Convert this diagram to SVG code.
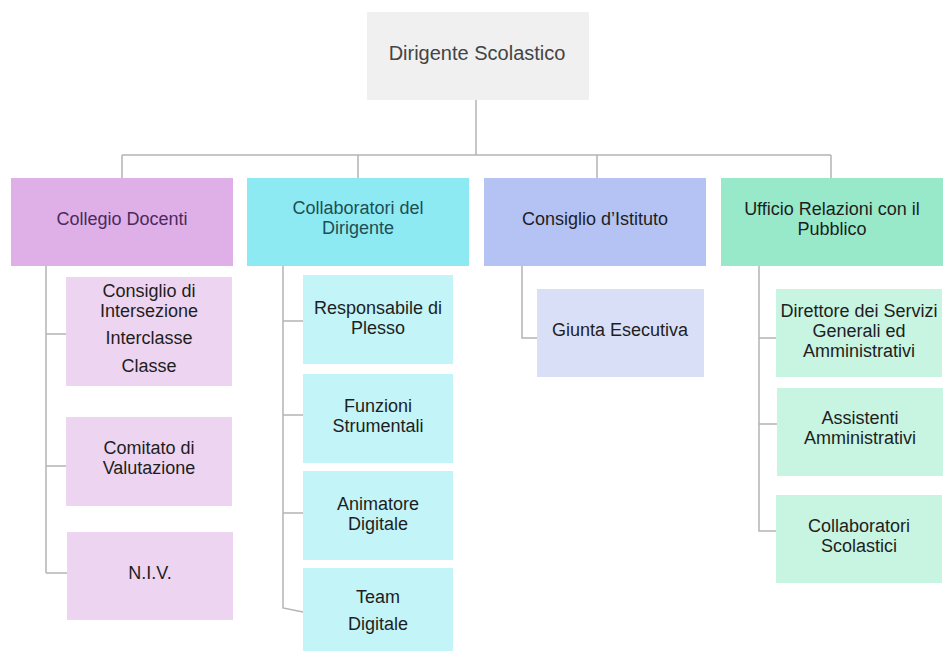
<svg xmlns="http://www.w3.org/2000/svg" width="943" height="651" viewBox="0 0 943 651">
<style>
text{font-family:"Liberation Sans",Arial,sans-serif;text-anchor:middle;font-size:18px;fill:#1e1e1e}
.c{fill:none;stroke:#b4b4b4;stroke-width:1.5}
.top{fill:#f0f0f0}
.p1{fill:#dfb0e8}.p2{fill:#edd5f1}
.t1{fill:#8eeaf2}.t2{fill:#c3f4f8}
.b1{fill:#b4c3f3}.b2{fill:#dadff8}
.g1{fill:#97e9c9}.g2{fill:#c8f4e2}
</style>
<g id="connectors">
<path class="c" d="M476 100V155M122 155H831M122 155V178M358 155V178M597 155V178M831 155V178"/>
<path class="c" d="M46 266V573M46 334H66M46 466H66M46 573H67"/>
<path class="c" d="M283 266V608L303 612M283 321H303M283 415H303M283 513H303"/>
<path class="c" d="M522 266V338H537"/>
<path class="c" d="M759 266V531H776M759 338H776M759 424H777"/>
</g>
<g id="dirigente"><rect class="top" x="367" y="12" width="222" height="88"/><text x="477" y="60" style="font-size:20px;fill:#444">Dirigente Scolastico</text></g>
<g id="collegio"><rect class="p1" x="11" y="178" width="222" height="88"/><text x="122" y="225" style="fill:#4b2a5c">Collegio Docenti</text></g>
<g id="collaboratori"><rect class="t1" x="247" y="178" width="222" height="88"/><text x="358" y="214" style="fill:#1d4f55">Collaboratori del</text><text x="358" y="234" style="fill:#1d4f55">Dirigente</text></g>
<g id="consiglio"><rect class="b1" x="484" y="178" width="222" height="88"/><text x="595" y="225">Consiglio d’Istituto</text></g>
<g id="ufficio"><rect class="g1" x="721" y="178" width="222" height="88"/><text x="832" y="215">Ufficio Relazioni con il</text><text x="832" y="235">Pubblico</text></g>
<g id="consiglio-intersezione"><rect class="p2" x="66" y="277" width="166" height="109"/><text x="149" y="297">Consiglio di</text><text x="149" y="317">Intersezione</text><text x="149" y="344">Interclasse</text><text x="149" y="372">Classe</text></g>
<g id="comitato"><rect class="p2" x="66" y="417" width="166" height="89"/><text x="149" y="454">Comitato di</text><text x="149" y="474">Valutazione</text></g>
<g id="niv"><rect class="p2" x="67" y="532" width="166" height="88"/><text x="150" y="579">N.I.V.</text></g>
<g id="responsabile"><rect class="t2" x="303" y="275" width="150" height="89"/><text x="378" y="314">Responsabile di</text><text x="378" y="334">Plesso</text></g>
<g id="funzioni"><rect class="t2" x="303" y="374" width="150" height="89"/><text x="378" y="412">Funzioni</text><text x="378" y="432">Strumentali</text></g>
<g id="animatore"><rect class="t2" x="303" y="471" width="150" height="89"/><text x="378" y="510">Animatore</text><text x="378" y="530">Digitale</text></g>
<g id="team"><rect class="t2" x="303" y="568" width="150" height="90"/><text x="378" y="603">Team</text><text x="378" y="630">Digitale</text></g>
<g id="giunta"><rect class="b2" x="537" y="289" width="167" height="88"/><text x="620" y="336">Giunta Esecutiva</text></g>
<g id="direttore"><rect class="g2" x="776" y="289" width="166" height="88"/><text x="859" y="317">Direttore dei Servizi</text><text x="859" y="337">Generali ed</text><text x="859" y="357">Amministrativi</text></g>
<g id="assistenti"><rect class="g2" x="777" y="388" width="166" height="88"/><text x="860" y="424">Assistenti</text><text x="860" y="444">Amministrativi</text></g>
<g id="collaboratori-scolastici"><rect class="g2" x="776" y="495" width="166" height="88"/><text x="859" y="532">Collaboratori</text><text x="859" y="552">Scolastici</text></g>
</svg>
